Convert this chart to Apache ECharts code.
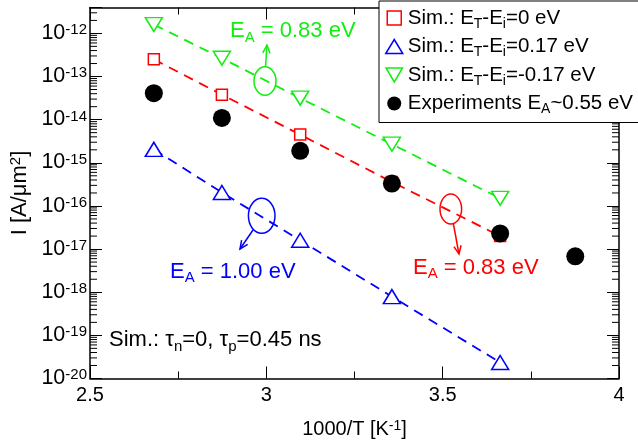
<!DOCTYPE html>
<html>
<head>
<meta charset="utf-8">
<script src="https://cdn.jsdelivr.net/npm/echarts@6/dist/echarts.min.js"></script>
<style>html,body{margin:0;padding:0;background:#fff}#main{width:638px;height:443px}</style>
</head>
<body>
<div id="main"></div>
<script>
// 1000/T [K^-1]
var xSim = [2.681, 2.874, 3.096, 3.356, 3.663];
var xExp = [2.681, 2.874, 3.096, 3.356, 3.663, 3.876];
// I [A/um^2]
var simE0 = [2.5e-13, 3.8e-14, 4.5e-15, 3.6e-16, 2.0e-17];
var simEp017 = [2.05e-15, 2.05e-16, 1.6e-17, 7.9e-19, 2.35e-20];
var simEm017 = [1.6e-12, 2.65e-13, 3.15e-14, 2.7e-15, 1.5e-16];
var expI = [4.1e-14, 1.1e-14, 1.9e-15, 3.3e-16, 2.3e-17, 6.8e-18];
// axes
var xTicks = [2.5, 3, 3.5, 4];
var yExp = [-20, -19, -18, -17, -16, -15, -14, -13, -12];
var yTop = -11.4;

var names = ['Sim.: E_T-E_i=0 eV', 'Sim.: E_T-E_i=0.17 eV', 'Sim.: E_T-E_i=-0.17 eV', 'Experiments E_A~0.55 eV'];
var RED = '#ff0000', BLUE = '#0000ff', GREEN = '#11ee11';
var FONT = '"Liberation Sans", Arial, Helvetica, sans-serif';

function pts(xs, ys) {
    return xs.map(function (x, i) { return [x, Math.log10(ys[i])]; });
}
// E_T -> rich text with subscripts
function richSub(s) {
    return s.split(/_(\w)/).map(function (p, i) {
        if (!p) return '';
        return i % 2 ? '{sub|' + p + '}' : '{m|' + p + '}';
    }).join('');
}
function subRich(size, subSize, drop) {
    return {
        m: {fontSize: size, fontFamily: FONT, lineHeight: size, verticalAlign: 'top'},
        sub: {fontSize: subSize, fontFamily: FONT, lineHeight: subSize, padding: [drop, 0, 0, 0]}
    };
}
var legendRich = subRich(20.5, 14, 12);
var annRich = subRich(22, 15, 13);
function supRich(size, supSize) {
    return {
        b: {fontSize: size, fontFamily: FONT, lineHeight: size, padding: [6, 0, 0, 0], verticalAlign: 'bottom', color: '#000'},
        s: {fontSize: supSize, fontFamily: FONT, lineHeight: supSize, verticalAlign: 'top', color: '#000'}
    };
}

// log-spaced minor ticks on the y axis
var minorTicks = [];
for (var e = yExp[0]; e <= yExp[yExp.length - 1]; e++) {
    for (var k = 2; k <= 9; k++) {
        var v = e + Math.log10(k);
        if (v < yTop) minorTicks.push([xTicks[0], v]);
    }
}

function arrowEls(x1, y1, x2, y2, c) {
    var dx = x2 - x1, dy = y2 - y1, L = Math.sqrt(dx * dx + dy * dy);
    var ux = dx / L, uy = dy / L, a = 0.42, h = 9, ca = Math.cos(a), sa = Math.sin(a);
    var p1 = [x2 - h * (ux * ca - uy * sa), y2 - h * (uy * ca + ux * sa)];
    var p2 = [x2 - h * (ux * ca + uy * sa), y2 - h * (uy * ca - ux * sa)];
    return [
        {type: 'line', shape: {x1: x1, y1: y1, x2: x2, y2: y2}, style: {stroke: c, lineWidth: 1.5}},
        {type: 'polyline', shape: {points: [p1, [x2, y2], p2]}, style: {stroke: c, fill: null, lineWidth: 1.5}}
    ];
}
function ellipseEl(cx, cy, rx, ry, c) {
    return {type: 'ellipse', shape: {cx: cx, cy: cy, rx: rx, ry: ry}, style: {stroke: c, fill: null, lineWidth: 1.5}};
}
function textEl(x, y, s, c) {
    return {type: 'text', x: x, y: y, style: {text: s, fill: c, rich: annRich, align: 'left', verticalAlign: 'middle'}};
}

var myChart = echarts.init(document.getElementById('main'));

var xAxisBase = {
    type: 'value', min: xTicks[0], max: xTicks[xTicks.length - 1], interval: 0.5,
    axisLine: {onZero: false, lineStyle: {color: '#000', width: 1.5}},
    axisTick: {inside: true, length: 12, lineStyle: {color: '#000', width: 1}},
    minorTick: {show: true, splitNumber: 2, length: 7, lineStyle: {color: '#000', width: 1}},
    splitLine: {show: false}
};
var yAxisBase = {
    type: 'value', min: yExp[0], max: yTop, interval: 1,
    axisLine: {onZero: false, lineStyle: {color: '#000', width: 1.5}},
    axisTick: {inside: true, length: 12, lineStyle: {color: '#000', width: 1}},
    splitLine: {show: false}
};

var option = {
    animation: false,
    backgroundColor: '#fff',
    grid: {left: 90, right: 19, top: 7.5, bottom: 64.5, outerBoundsMode: 'none'},
    xAxis: [
        Object.assign({}, xAxisBase, {
            position: 'bottom',
            axisLabel: {color: '#000', fontSize: 20, fontFamily: FONT, margin: 7},
            name: '{b|1000/T [K}{s|-1}{b|]}',
            nameLocation: 'middle', nameGap: 41,
            nameTextStyle: {rich: supRich(20, 14)}
        }),
        Object.assign({}, xAxisBase, {position: 'top', axisLabel: {show: false}})
    ],
    yAxis: [
        Object.assign({}, yAxisBase, {
            position: 'left',
            axisLabel: {
                margin: 3,
                formatter: function (v) {
                    var r = Math.round(v);
                    if (Math.abs(v - r) > 1e-6) return '';
                    return '{b|10}{s|' + r + '}';
                },
                rich: supRich(21.5, 15)
            },
            name: '{b|I [A/μm}{s|2}{b|]}',
            nameLocation: 'middle', nameGap: 56,
            nameTextStyle: {rich: supRich(22, 15)}
        }),
        Object.assign({}, yAxisBase, {position: 'right', axisLabel: {show: false}})
    ],
    legend: {
        left: 379, top: 1,
        orient: 'vertical',
        backgroundColor: '#fff',
        borderColor: '#000', borderWidth: 1, borderRadius: 0,
        padding: [4, 20, 6, 6],
        itemGap: 2.5,
        itemWidth: 17, itemHeight: 14,
        itemStyle: {borderWidth: 1.5},
        textStyle: {color: '#000', rich: legendRich},
        formatter: function (n) { return richSub(n); },
        selectedMode: false,
        data: [
            {name: names[0], icon: 'path://M0,0H12V12H0Z'},
            {name: names[1]},
            {name: names[2]},
            {name: names[3]}
        ]
    },
    graphic: [].concat(
        [ellipseEl(265, 81, 11, 14.2, GREEN)],
        arrowEls(265.5, 66.8, 267, 45, GREEN),
        [textEl(230, 31, '{m|E}{sub|A}{m| = 0.83 eV}', GREEN)],
        [ellipseEl(450.8, 209, 10.8, 15, RED)],
        arrowEls(453.3, 223.5, 459, 254, RED),
        [textEl(413, 267.5, '{m|E}{sub|A}{m| = 0.83 eV}', RED)],
        [ellipseEl(261.7, 215.8, 13.3, 17.5, BLUE)],
        arrowEls(253, 230, 240, 249, BLUE),
        [textEl(170, 271.5, '{m|E}{sub|A}{m| = 1.00 eV}', BLUE)],
        [textEl(109, 340, '{m|Sim.: τ}{sub|n}{m|=0, τ}{sub|p}{m|=0.45 ns}', '#000')]
    ),
    series: [
        {
            type: 'custom', name: 'minor', silent: true, z: 1, clip: false,
            renderItem: function (params, api) {
                var l = api.coord([xTicks[0], api.value(1)]);
                var r = api.coord([xTicks[xTicks.length - 1], api.value(1)]);
                return {type: 'group', children: [
                    {type: 'line', shape: {x1: l[0], y1: l[1], x2: l[0] + 7, y2: l[1]}, style: {stroke: '#000', lineWidth: 1}},
                    {type: 'line', shape: {x1: r[0] - 7, y1: r[1], x2: r[0], y2: r[1]}, style: {stroke: '#000', lineWidth: 1}}
                ]};
            },
            data: minorTicks
        },
        {type: 'line', name: 'fitR', data: pts(xSim, simE0), symbol: 'none', silent: true, z: 2,
            lineStyle: {color: RED, width: 1.8, type: [10, 7]}},
        {type: 'line', name: 'fitB', data: pts(xSim, simEp017), symbol: 'none', silent: true, z: 2,
            lineStyle: {color: BLUE, width: 1.8, type: [10, 7]}},
        {type: 'line', name: 'fitG', data: pts(xSim, simEm017), symbol: 'none', silent: true, z: 2,
            lineStyle: {color: GREEN, width: 1.8, type: [10, 7]}},
        {type: 'scatter', name: names[0], data: pts(xSim, simE0), symbol: 'rect', symbolSize: 11, z: 3,
            itemStyle: {color: '#fff', borderColor: RED, borderWidth: 1.5, opacity: 1}},
        {type: 'scatter', name: names[1], data: pts(xSim, simEp017), symbol: 'triangle', symbolSize: [17, 14], z: 3,
            itemStyle: {color: '#fff', borderColor: BLUE, borderWidth: 1.5, opacity: 1}},
        {type: 'scatter', name: names[2], data: pts(xSim, simEm017), symbol: 'path://M0,0L20,0L10,17Z', symbolSize: [17, 14], z: 3,
            itemStyle: {color: '#fff', borderColor: GREEN, borderWidth: 1.5, opacity: 1}},
        {type: 'scatter', name: names[3], data: pts(xExp, expI), symbol: 'circle', symbolSize: 18, z: 4,
            itemStyle: {color: '#000', opacity: 1}}
    ]
};
myChart.setOption(option);
</script>
</body>
</html>
